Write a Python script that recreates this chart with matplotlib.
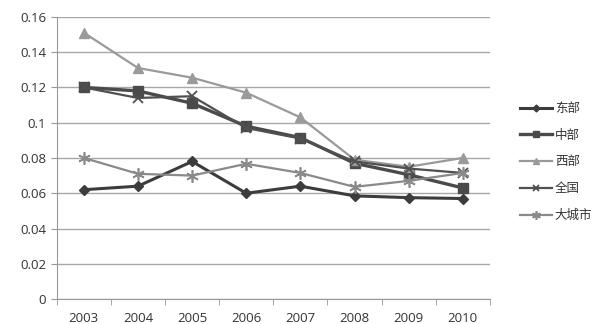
import matplotlib
matplotlib.use("Agg")
import matplotlib.pyplot as plt

plt.rcParams['font.family'] = ['Open Sans', 'Noto Sans CJK SC', 'DejaVu Sans']

years = ['2003', '2004', '2005', '2006', '2007', '2008', '2009', '2010']
east = [0.062, 0.064, 0.078, 0.060, 0.064, 0.0585, 0.0575, 0.057]
central = [0.120, 0.118, 0.111, 0.098, 0.0915, 0.077, 0.0705, 0.063]
west = [0.151, 0.131, 0.1255, 0.117, 0.103, 0.079, 0.075, 0.080]
nation = [0.120, 0.114, 0.115, 0.097, 0.091, 0.078, 0.074, 0.0715]
big_city = [0.080, 0.071, 0.070, 0.0767, 0.0715, 0.0636, 0.067, 0.0715]
series_names = ['东部', '中部', '西部', '全国', '大城市']

fig = plt.figure(figsize=(6.04, 3.24), dpi=100)
ax = fig.add_axes([0.094, 0.077, 0.717, 0.871])

x = range(len(years))
ax.plot(x, east, color='#3c3c3c', lw=2.2, marker='D', ms=5, label=series_names[0])
ax.plot(x, central, color='#4a4a4a', lw=2.4, marker='s', ms=7, label=series_names[1])
ax.plot(x, west, color='#9a9a9a', lw=1.6, marker='^', ms=7, label=series_names[2])
ax.plot(x, nation, color='#505050', lw=1.6, marker='x', ms=7, mew=1.3, label=series_names[3])
ax.plot(x, big_city, color='#8a8a8a', lw=1.6, marker=(6, 2, 0), ms=9, mew=1.2, label=series_names[4])

ax.set_xlim(-0.5, len(years) - 0.5)
ax.set_ylim(0, 0.16)
ax.set_yticks([0, 0.02, 0.04, 0.06, 0.08, 0.1, 0.12, 0.14, 0.16])
ax.set_yticklabels(['0', '0.02', '0.04', '0.06', '0.08', '0.1', '0.12', '0.14', '0.16'])
ax.set_xticks(list(x))
ax.set_xticklabels(years)
ax.set_xticks([i - 0.5 for i in range(len(years) + 1)], minor=True)
ax.tick_params(axis='x', which='major', length=0, labelsize=9.5, colors='#333333', pad=9)
ax.tick_params(axis='x', which='minor', length=4, color='#999999')
ax.tick_params(axis='y', length=4, color='#999999', labelsize=9.5, colors='#333333')
ax.yaxis.grid(True, color='#a8a8a8', lw=1)
ax.set_axisbelow(True)
for side in ['top', 'right']:
    ax.spines[side].set_visible(False)
for side in ['left', 'bottom']:
    ax.spines[side].set_color('#999999')

leg = fig.legend(loc='center left', bbox_to_anchor=(0.842, 0.50), frameon=False,
                 prop={'family': ['Noto Sans CJK SC'], 'size': 9},
                 handlelength=2.6, handletextpad=0.2, labelspacing=1.1,
                 markerscale=0.7)
for t in leg.get_texts():
    t.set_color('#333333')

fig.savefig('out.png', dpi=100)
